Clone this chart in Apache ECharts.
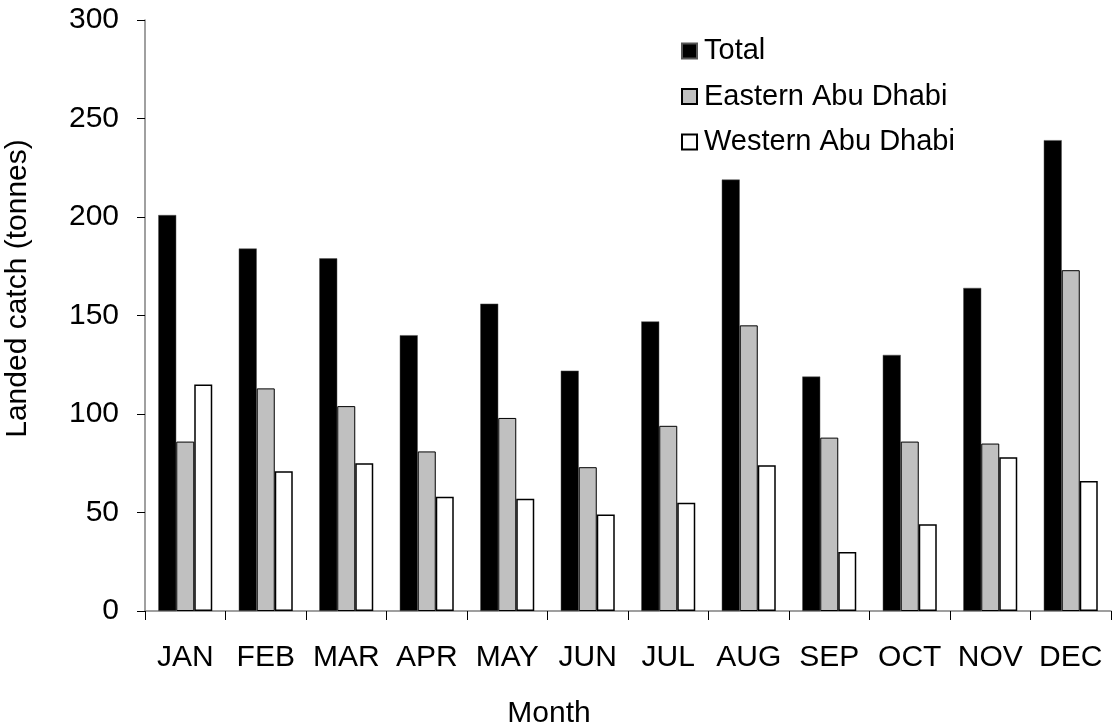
<!DOCTYPE html>
<html>
<head>
<meta charset="utf-8">
<script src="https://cdn.jsdelivr.net/npm/echarts@6/dist/echarts.min.js"></script>
<style>
html,body{margin:0;padding:0;background:#fff;}
#chart{width:1112px;height:723px;}
</style>
</head>
<body>
<div id="chart"></div>
<script>
const months = ['JAN','FEB','MAR','APR','MAY','JUN','JUL','AUG','SEP','OCT','NOV','DEC'];
const total = [201, 184, 179, 140, 156, 122, 147, 219, 119, 130, 164, 239];
const eastern = [86, 113, 104, 81, 98, 73, 94, 145, 88, 86, 85, 173];
const western = [115, 71, 75, 58, 57, 49, 55, 74, 30, 44, 78, 66];
const yTicks = [0, 50, 100, 150, 200, 250, 300];

const FONT = 'Liberation Sans, Arial, sans-serif';
const FS = 30;
const chart = echarts.init(document.getElementById('chart'));
chart.setOption({
  animation: false,
  backgroundColor: '#fff',
  textStyle: {fontFamily: FONT, color: '#000'},
  grid: {left: 145, right: 1, top: 20, bottom: 112, containLabel: false, outerBoundsMode: 'none'},
  legend: {
    orient: 'vertical',
    left: 676,
    top: 31,
    itemWidth: 15,
    itemHeight: 15,
    itemGap: 15.5,
    icon: 'rect',
    textStyle: {fontFamily: FONT, fontSize: 29, color: '#000', lineHeight: 30, padding: [0, 0, 0, 2]},
    data: ['Total', 'Eastern Abu Dhabi', 'Western Abu Dhabi']
  },
  xAxis: {
    type: 'category',
    data: months,
    name: 'Month',
    nameLocation: 'middle',
    nameGap: 88,
    nameTextStyle: {fontFamily: FONT, fontSize: FS, color: '#000', padding: [0, 158, 0, 0]},
    axisLine: {lineStyle: {color: '#808080', width: 1.5}},
    axisTick: {show: true, length: 9, lineStyle: {color: '#000', width: 1}},
    axisLabel: {fontFamily: FONT, fontSize: FS, color: '#000', margin: 32, interval: 0}
  },
  yAxis: {
    type: 'value',
    min: yTicks[0],
    max: yTicks[yTicks.length - 1],
    interval: 50,
    name: 'Landed catch (tonnes)',
    nameLocation: 'middle',
    nameGap: 112,
    nameTextStyle: {fontFamily: FONT, fontSize: FS, color: '#000', padding: [0, 0, 0, 54]},
    axisLine: {show: true, lineStyle: {color: '#808080', width: 1.5}},
    axisTick: {show: true, length: 8, lineStyle: {color: '#000', width: 1}},
    axisLabel: {fontFamily: FONT, fontSize: FS, color: '#000', margin: 26},
    splitLine: {show: false}
  },
  series: [
    {name: 'Total', type: 'bar', data: total, barWidth: 18, barGap: '0%',
     itemStyle: {color: '#000', borderColor: '#555', borderWidth: 0.5}},
    {name: 'Eastern Abu Dhabi', type: 'bar', data: eastern, barWidth: 18, barGap: '0%',
     itemStyle: {color: '#c0c0c0', borderColor: '#000', borderWidth: 1}},
    {name: 'Western Abu Dhabi', type: 'bar', data: western, barWidth: 18, barGap: '0%',
     itemStyle: {color: '#fff', borderColor: '#000', borderWidth: 1.5}}
  ]
});
</script>
</body>
</html>
